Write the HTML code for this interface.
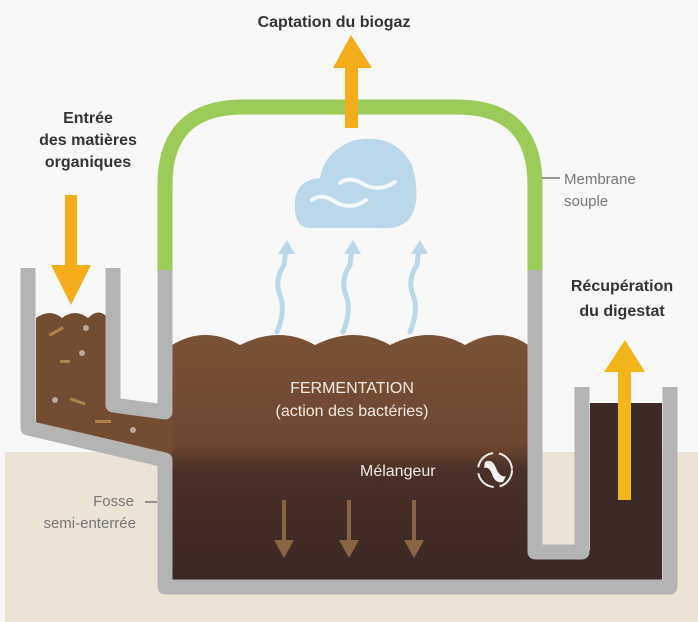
<!DOCTYPE html>
<html><head><meta charset="utf-8"><style>
html,body{margin:0;padding:0;background:#f8f8f8;}
svg{display:block;}
text{font-family:"Liberation Sans",sans-serif;}
</style></head><body>
<svg width="698" height="622" viewBox="0 0 698 622" xmlns="http://www.w3.org/2000/svg">
<defs>
<linearGradient id="mat" x1="0" y1="0" x2="0" y2="1">
<stop offset="0" stop-color="#7c5234"/>
<stop offset="0.45" stop-color="#6e4631"/>
<stop offset="0.55" stop-color="#4a3028"/>
<stop offset="1" stop-color="#3c2824"/>
</linearGradient>
</defs>
<rect width="698" height="622" fill="#f8f8f8"/>
<!-- ground -->
<rect x="5" y="452" width="693" height="170" fill="#ebe3d6"/>
<!-- main material -->
<path d="M172 345 Q205 325 240 345 Q280 325 315 345 Q355 325 390 345 Q430 325 465 345 Q500 325 528 345 L528 580 L172 580 Z" fill="url(#mat)"/>
<!-- funnel material -->
<path d="M36 318 Q50 308 62 318 Q75 308 88 318 Q98 308 106 316 L106 405 L172 412 L172 462 L36 425 Z" fill="#744c31"/>
<g fill="#c89a50" opacity="0.7"><rect x="48" y="330" width="16" height="3" transform="rotate(-30 56 331)"/><rect x="70" y="400" width="16" height="3" transform="rotate(20 78 401)"/><rect x="95" y="420" width="16" height="3"/><rect x="60" y="360" width="10" height="3"/></g>
<g fill="#d8d0c8" opacity="0.7"><circle cx="86" cy="328" r="3"/><circle cx="82" cy="353" r="3"/><circle cx="55" cy="400" r="3"/><circle cx="133" cy="430" r="3"/></g>
<!-- digestat material -->
<rect x="590" y="403" width="72" height="177" fill="#3b2a26"/>
<rect x="526" y="550" width="70" height="32" fill="#3b2a26"/>
<!-- gray walls -->
<g fill="none" stroke="#b4b4b4" stroke-width="15" stroke-linejoin="round">
<path d="M28 268 L28 428 L165 460 L165 587 L670 587 L670 387"/>
<path d="M113 268 L113 405 L165 412 L165 268"/>
<path d="M535 268 L535 552 L582 552 L582 387"/>
</g>
<!-- dome -->
<path d="M165 270 L165 185 Q165 107 243 107 L457 107 Q535 107 535 185 L535 270" fill="none" stroke="#9ccb5a" stroke-width="15"/>
<!-- biogaz arrow -->
<path d="M345 128 L345 68 L333 68 L351 35 L372 68 L358 68 L358 128 Z" fill="#f3ac1a"/>
<!-- cloud -->
<path d="M310 228 Q293 228 295 200 Q297 180 320 178 Q325 150 355 140 Q395 133 412 165 Q422 200 410 218 Q400 230 380 228 Z" fill="#bad8ea"/>
<g fill="none" stroke="#f4f8fb" stroke-width="4" stroke-linecap="round">
<path d="M340 183 Q350 175 365 185 Q380 192 395 182"/>
<path d="M312 200 Q322 192 337 203 Q352 210 366 200"/>
</g>
<!-- wavy arrows -->
<g fill="none" stroke="#bad8ea" stroke-width="5" stroke-linecap="round">
<path d="M277 332 Q286 310 280 295 Q274 280 284 265 L286 248"/>
<path d="M343 332 Q352 310 346 295 Q340 280 350 265 L352 248"/>
<path d="M410 332 Q419 310 413 295 Q407 280 417 265 L419 248"/>
</g>
<g fill="#bad8ea"><path d="M278 254 L287 240 L295 254 Z"/><path d="M344 254 L353 240 L361 254 Z"/><path d="M411 254 L420 240 L428 254 Z"/></g>
<!-- input arrow -->
<path d="M65 195 L77 195 L77 265 L91 265 L71 305 L51 265 L65 265 Z" fill="#f3ac1a"/>
<!-- digestat arrow -->
<path d="M618 500 L631 500 L631 372 L645 372 L625 340 L604 372 L618 372 Z" fill="#f3b51a"/>
<!-- down arrows -->
<g stroke="#8a6443" stroke-width="4" fill="none"><path d="M284 500 L284 550"/><path d="M349 500 L349 550"/><path d="M414 500 L414 550"/></g>
<g fill="#8a6443"><path d="M274 540 L284 558 L294 540 Z"/><path d="M339 540 L349 558 L359 540 Z"/><path d="M404 540 L414 558 L424 540 Z"/></g>
<!-- mixer icon -->
<circle cx="495" cy="470" r="17" fill="none" stroke="#eee" stroke-width="2" stroke-dasharray="22 6"/>
<path d="M485 462 Q492 458 496 468 Q500 478 506 476 L503 482 Q495 484 492 474 Q489 466 484 468 Z" fill="#f2f2f2"/>
<!-- texts -->
<g font-weight="bold" fill="#333" font-size="16">
<text x="334" y="27" text-anchor="middle">Captation du biogaz</text>
<text x="88" y="123" text-anchor="middle">Entrée</text>
<text x="88" y="145" text-anchor="middle">des matières</text>
<text x="88" y="167" text-anchor="middle">organiques</text>
<text x="622" y="291" text-anchor="middle">Récupération</text>
<text x="622" y="316" text-anchor="middle">du digestat</text>
</g>
<g fill="#777" font-size="15">
<text x="564" y="184">Membrane</text>
<text x="564" y="206">souple</text>
<text x="134" y="506" text-anchor="end">Fosse</text>
<text x="136" y="528" text-anchor="end">semi-enterrée</text>
</g>
<path d="M542 178 L560 178" stroke="#777" stroke-width="1.5"/>
<path d="M145 502 L157 502" stroke="#777" stroke-width="1.5"/>
<g fill="#f0ebe6" font-size="16">
<text x="352" y="393" text-anchor="middle">FERMENTATION</text>
<text x="352" y="416" text-anchor="middle">(action des bactéries)</text>
<text x="360" y="476">Mélangeur</text>
</g>
</svg>
</body></html>
